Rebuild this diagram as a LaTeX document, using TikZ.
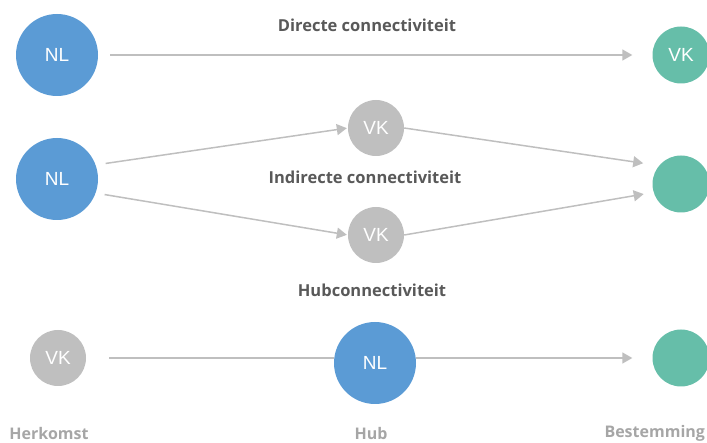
\documentclass[tikz,border=0pt]{standalone}
\usepackage{fontspec}
\newfontfamily\circfont{Liberation Sans}
\newfontfamily\headfont{Open Sans}
\usetikzlibrary{arrows.meta}

\definecolor{nlblue}{HTML}{5B9BD5}
\definecolor{vkgrey}{HTML}{BFBFBF}
\definecolor{vkgreen}{HTML}{66BEA9}
\definecolor{headgrey}{HTML}{595959}
\definecolor{footgrey}{HTML}{A6A6A6}

\begin{document}
\begin{tikzpicture}[x=1pt, y=-1pt,
	land/.style={circle, inner sep=0pt, text=white, font=\circfont\fontsize{19}{19}\selectfont},
	nl/.style={land, fill=nlblue, minimum size=82pt},
	vk/.style={land, fill=vkgrey, minimum size=56pt},
	dest/.style={land, fill=vkgreen, minimum size=57pt},
	head/.style={font=\headfont\bfseries\fontsize{16.5}{16.5}\selectfont, text=headgrey},
	foot/.style={font=\headfont\bfseries\fontsize{16}{16}\selectfont, text=footgrey},
	link/.style={draw=vkgrey, line width=1.5pt},
	flow/.style={link, -{Triangle[length=10pt, width=11pt]}}]

	\useasboundingbox (0,0) rectangle (707,443);

	% directe connectiviteit
	\node[head] (tdir) at (367,25) {Directe connectiviteit};
	\node[nl] (nla) at (57,55) {NL};
	\node[dest] (vka) at (681,55) {VK};
	\draw[flow, shorten <=12pt, shorten >=20pt] (nla.east) -- (vka.west);

	% indirecte connectiviteit
	\node[head] (tind) at (365,177) {Indirecte connectiviteit};
	\node[nl] (nlb) at (57,179) {NL};
	\node[vk] (vkup) at (376,128) {VK};
	\node[vk] (vklo) at (376,235) {VK};
	\node[dest] (dstb) at (681,184) {};
	\draw[flow, shorten <=10pt, shorten >=1pt] (nlb.20) -- (vkup.west);
	\draw[flow, shorten <=9pt, shorten >=1pt] (nlb.-20) -- (vklo.west);
	\draw[flow, shorten >=16pt] (vkup.east) -- (dstb.140);
	\draw[flow, shorten >=10pt] (vklo.east) -- (dstb.197);

	% hubconnectiviteit
	\node[head] (thub) at (372,290) {Hubconnectiviteit};
	\node[vk] (vkc) at (58,358) {VK};
	\node[nl] (hub) at (375,363) {NL};
	\node[dest] (dstc) at (681,358) {};
	\draw[link, shorten <=23pt] (vkc.east) -- (vkc.east -| hub.west);
	\draw[flow, shorten >=20pt] (hub.east |- dstc.west) -- (dstc.west);

	% onderschriften
	\node[foot] (herk) at (49,433) {Herkomst};
	\node[foot] (hubl) at (371,433) {Hub};
	\node[foot, anchor=west] (best) at (601,433) {Bestemming};
\end{tikzpicture}
\end{document}
